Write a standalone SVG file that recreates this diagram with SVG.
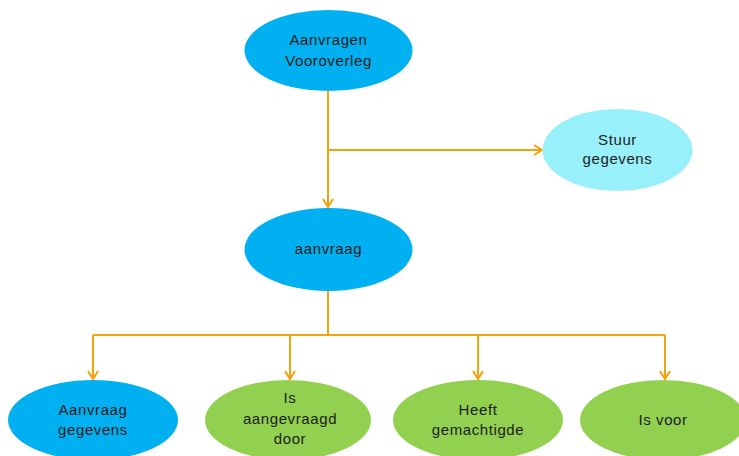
<svg xmlns="http://www.w3.org/2000/svg" width="739" height="456" viewBox="0 0 739 456">
<defs>
<marker id="arr" viewBox="0 0 12 12" refX="10" refY="6" markerWidth="12" markerHeight="12" markerUnits="userSpaceOnUse" orient="auto">
<path d="M2,1 L10,6 L2,11" fill="none" stroke="#F2A20C" stroke-width="2"/>
</marker>
</defs>
<style>
.blue{fill:#00B0F0}
.cyan{fill:#98F0FA}
.green{fill:#92D050}
.t{font-family:"Liberation Sans",Arial,sans-serif;font-size:15px;letter-spacing:0.6px;fill:#1c1c1c;text-anchor:middle}
.c{fill:none;stroke:#F2A20C;stroke-width:2}
</style>
<rect width="739" height="456" fill="#fff"/>
<g id="connectors">
<path class="c" d="M328,91 V207" marker-end="url(#arr)"/>
<path class="c" d="M328,150 H542" marker-end="url(#arr)"/>
<path class="c" d="M328,291 V335"/>
<path class="c" d="M93,335 H665"/>
<path class="c" d="M93,335 V379" marker-end="url(#arr)"/>
<path class="c" d="M290,335 V379" marker-end="url(#arr)"/>
<path class="c" d="M478,335 V379" marker-end="url(#arr)"/>
<path class="c" d="M665,335 V379" marker-end="url(#arr)"/>
</g>
<g id="n-aanvragen">
<ellipse class="blue" cx="328.5" cy="50.5" rx="84" ry="40.5"/>
<text class="t" x="328.5" y="45">Aanvragen</text>
<text class="t" x="328.5" y="66">Vooroverleg</text>
</g>
<g id="n-stuur">
<ellipse class="cyan" cx="617.5" cy="150" rx="75" ry="41"/>
<text class="t" x="617.5" y="145">Stuur</text>
<text class="t" x="617.5" y="164">gegevens</text>
</g>
<g id="n-aanvraag">
<ellipse class="blue" cx="328.5" cy="249.5" rx="84" ry="41.5"/>
<text class="t" x="328.5" y="254">aanvraag</text>
</g>
<g id="n-aanvraaggegevens">
<ellipse class="blue" cx="93" cy="420" rx="85" ry="40"/>
<text class="t" x="93" y="415">Aanvraag</text>
<text class="t" x="93" y="435">gegevens</text>
</g>
<g id="n-isaangevraagd">
<ellipse class="green" cx="288" cy="420" rx="83" ry="40"/>
<text class="t" x="290" y="403">Is</text>
<text class="t" x="290" y="424">aangevraagd</text>
<text class="t" x="290" y="444">door</text>
</g>
<g id="n-heeft">
<ellipse class="green" cx="478" cy="420" rx="85" ry="40"/>
<text class="t" x="478" y="415">Heeft</text>
<text class="t" x="478" y="435">gemachtigde</text>
</g>
<g id="n-isvoor">
<ellipse class="green" cx="663" cy="420" rx="83" ry="40"/>
<text class="t" x="663" y="425">Is voor</text>
</g>
</svg>
